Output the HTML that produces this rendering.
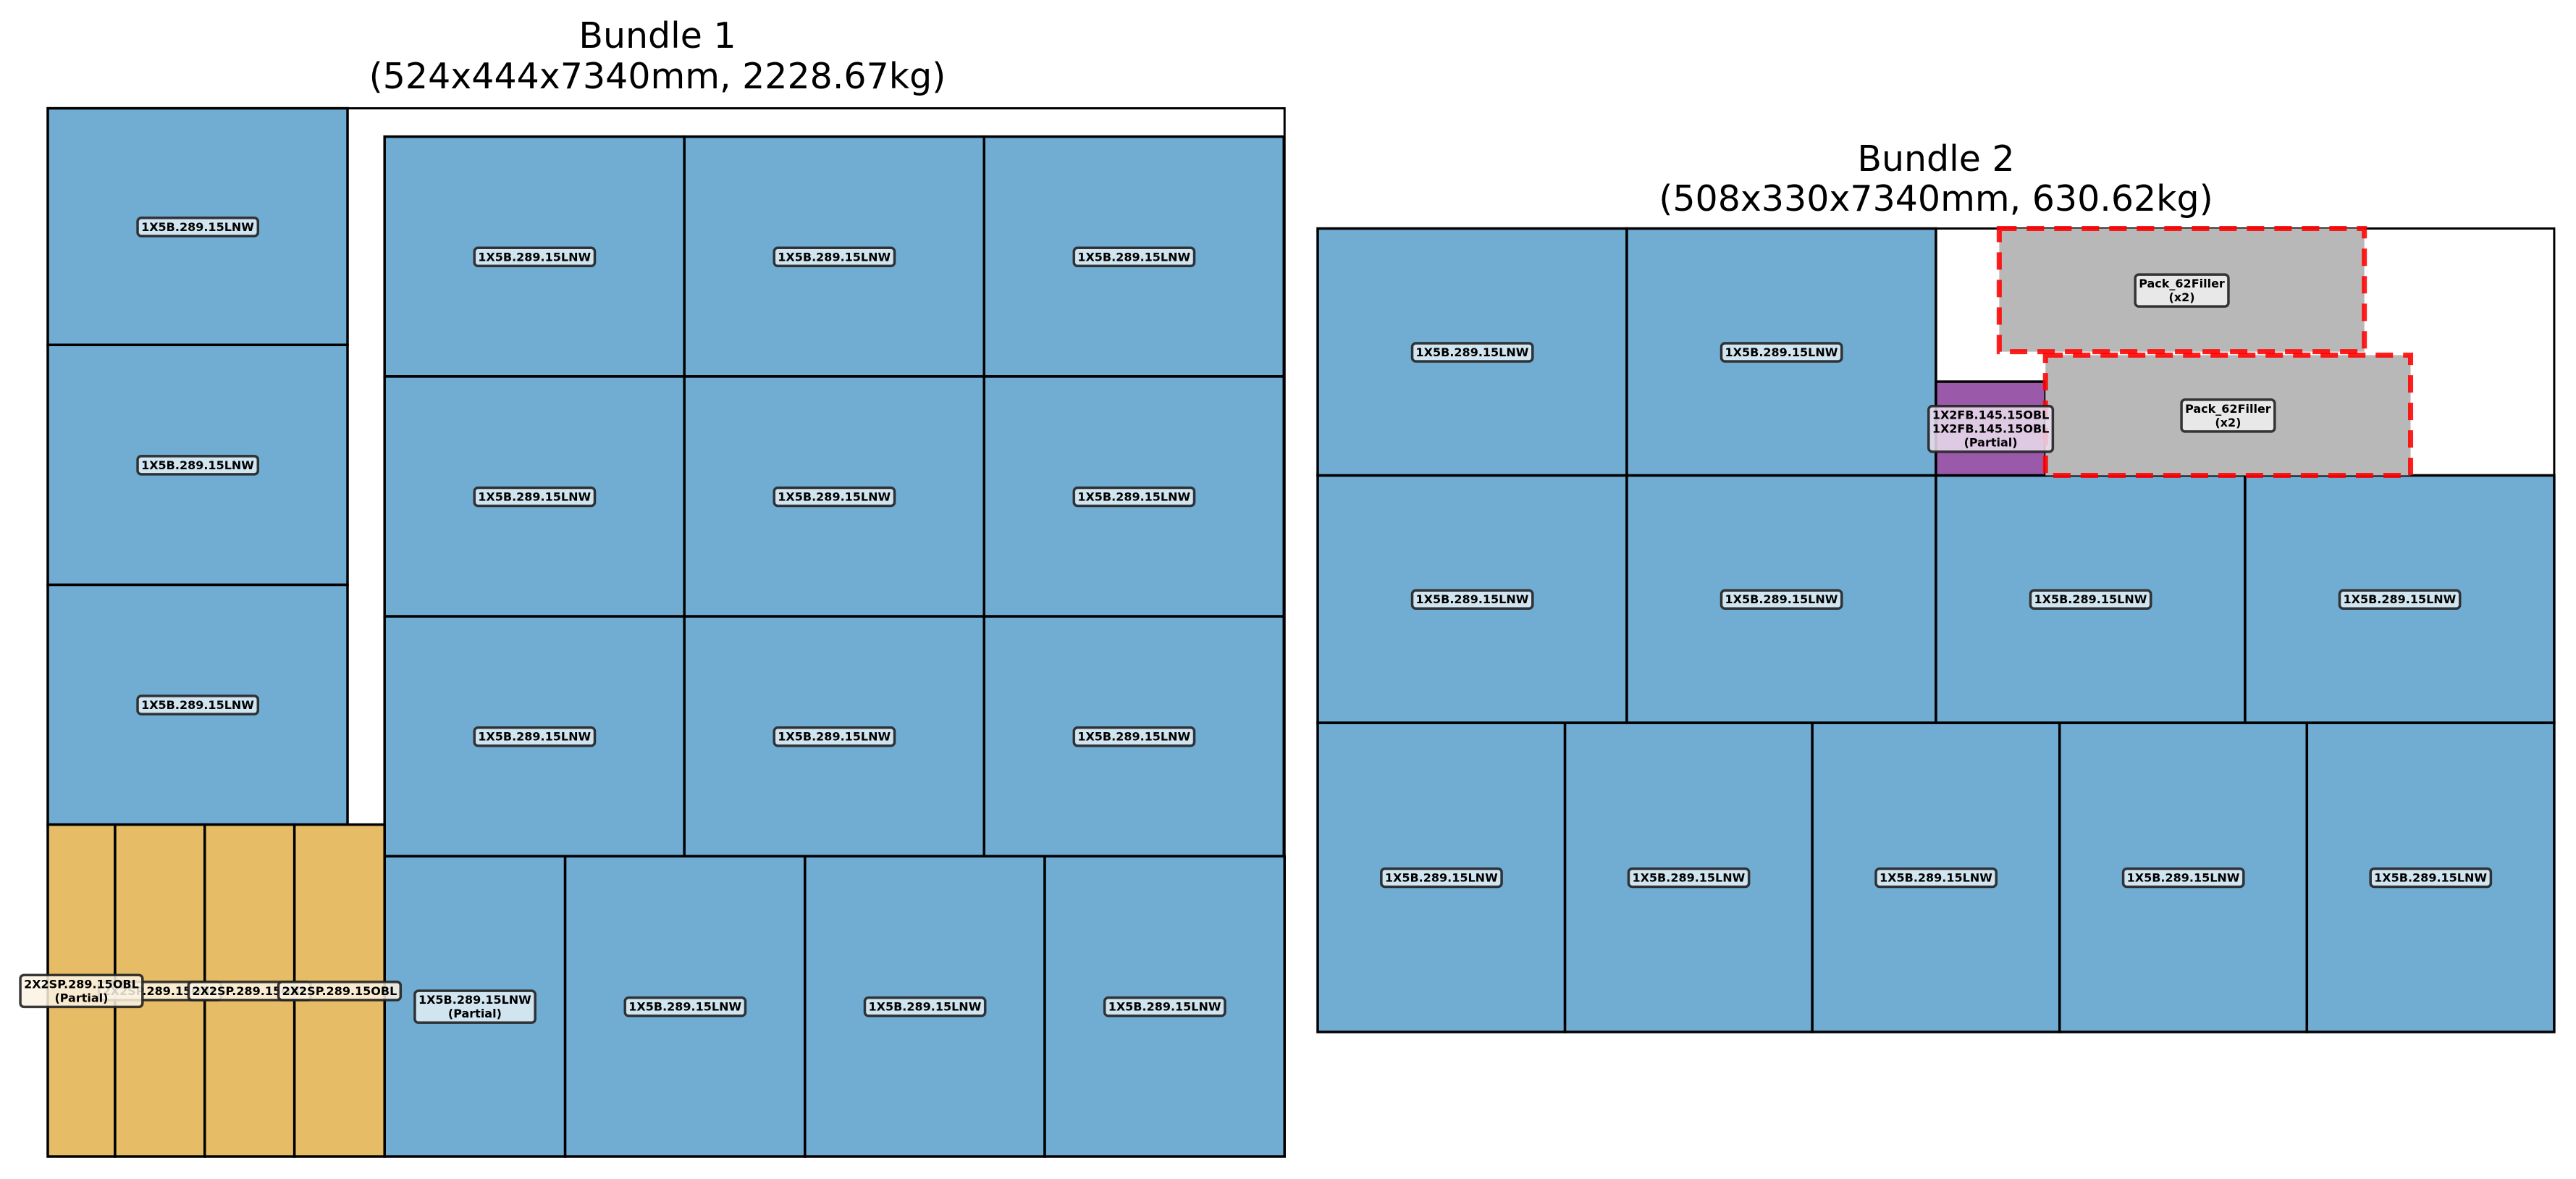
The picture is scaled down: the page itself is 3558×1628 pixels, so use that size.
<!DOCTYPE html>
<html><head><meta charset="utf-8"><style>
html,body{margin:0;padding:0;background:#fff;}
svg{display:block;}
text{font-family:"DejaVu Sans","Liberation Sans",sans-serif;}
</style></head><body>
<svg id="chart" width="3558" height="1628" viewBox="0 0 3558 1628" xmlns="http://www.w3.org/2000/svg">
<g id="b1"></g>
<g id="b2"></g>
</svg>
<script>
// Bundle 1 data (mm): x, y (from bottom-left), w, h, kind, label
const b1Kinds=['blue','blue','blue','blue','blue','blue','blue','blue','blue','blue','blue','blue','blue','blue','blue','blue','yellow','yellow','yellow','yellow'];
const b1X=[0,0,0,142.7,269.7,396.7,142.7,269.7,396.7,142.7,269.7,396.7,142.7,219.2,320.8,422.4,0,28.5,66.5,104.5];
const b1Y=[140.6,242.2,343.8,330.4,330.4,330.4,228.8,228.8,228.8,127.2,127.2,127.2,0,0,0,0,0,0,0,0];
const b1W=[127,127,127,127,127,127,127,127,127,127,127,127,76.5,101.6,101.6,101.6,28.5,38,38,38.2];
const b1H=[101.6,101.6,100.2,101.6,101.6,101.6,101.6,101.6,101.6,101.6,101.6,101.6,127.2,127.2,127.2,127.2,140.6,140.6,140.6,140.6];
const b1Labels=['1X5B.289.15LNW','1X5B.289.15LNW','1X5B.289.15LNW','1X5B.289.15LNW','1X5B.289.15LNW','1X5B.289.15LNW','1X5B.289.15LNW','1X5B.289.15LNW','1X5B.289.15LNW','1X5B.289.15LNW','1X5B.289.15LNW','1X5B.289.15LNW','1X5B.289.15LNW|(Partial)','1X5B.289.15LNW','1X5B.289.15LNW','1X5B.289.15LNW','2X2SP.289.15OBL|(Partial)','2X2SP.289.15OBL','2X2SP.289.15OBL','2X2SP.289.15OBL'];
// Bundle 2 data (mm)
const b2Kinds=['blue','blue','blue','blue','blue','blue','blue','blue','blue','blue','blue','purple','filler','filler'];
const b2X=[0,101.6,203.2,304.8,406.4,0,127,254,381,0,127,254,280,299];
const b2Y=[0,0,0,0,0,127,127,127,127,228.6,228.6,228.6,279.4,228.6];
const b2W=[101.6,101.6,101.6,101.6,101.6,127,127,127,127,127,127,45,150,150];
const b2H=[127,127,127,127,127,101.6,101.6,101.6,101.6,101.4,101.4,38.5,50.6,49.4];
const b2Labels=['1X5B.289.15LNW','1X5B.289.15LNW','1X5B.289.15LNW','1X5B.289.15LNW','1X5B.289.15LNW','1X5B.289.15LNW','1X5B.289.15LNW','1X5B.289.15LNW','1X5B.289.15LNW','1X5B.289.15LNW','1X5B.289.15LNW','1X2FB.145.15OBL|1X2FB.145.15OBL|(Partial)','Pack_62Filler|(x2)','Pack_62Filler|(x2)'];

const fills={blue:'#71acd2',yellow:'#e6bc66',purple:'#9b5aa9',filler:'#b8b8b8'};
const labelBg={blue:'#e2eef6',yellow:'#fbf3e3',purple:'#ebdeee',filler:'#f0f0f0'};
const NS='http://www.w3.org/2000/svg';
function mk(tag,attrs,parent){const e=document.createElementNS(NS,tag);for(const k in attrs)e.setAttribute(k,attrs[k]);parent.appendChild(e);return e;}

function drawBundle(g,cfg,kinds,X,Y,W,H,labels){
  const sx=v=>cfg.left+v*cfg.scale;
  const sy=v=>cfg.bottom-v*cfg.scale;
  const t1=mk('text',{x:cfg.cx,y:cfg.t1y,'font-size':49,'text-anchor':'middle'},g);
  t1.textContent=cfg.title1;
  
  
  const t2=mk('text',{x:cfg.cx,y:cfg.t2y,'font-size':49,'text-anchor':'middle'},g);
  t2.textContent=cfg.title2;
  
  
  const frame=mk('rect',{x:sx(0),y:sy(cfg.hmm),width:cfg.wmm*cfg.scale,height:cfg.hmm*cfg.scale,fill:'#fff',stroke:'#000','stroke-width':3},g);
  
  
  for(let i=0;i<kinds.length;i++){
    const k=kinds[i];
    const r=mk('rect',{x:sx(X[i]),y:sy(Y[i]+H[i]),width:W[i]*cfg.scale,height:H[i]*cfg.scale,fill:fills[k],stroke:k==='filler'?'#ff0000':'#000','stroke-width':k==='filler'?7:3.5},g);
    if(k==='filler'){r.setAttribute('stroke-dasharray','24 14');r.setAttribute('stroke-opacity','0.88');}
    
    
  }
  const order=[];
  for(let i=0;i<kinds.length;i++) if(labels[i].indexOf('(Partial)')<0) order.push(i);
  for(let i=0;i<kinds.length;i++) if(labels[i].indexOf('(Partial)')>=0) order.push(i);
  order.forEach(i=>{
    const k=kinds[i];
    const cx=sx(X[i]+W[i]/2), cy=sy(Y[i]+H[i]/2);
    const lines=labels[i].split('|');
    const lg=mk('g',{},g);
    
    
    const box=mk('rect',{rx:5,ry:5,fill:labelBg[k],'fill-opacity':0.85,stroke:'#222','stroke-width':3.5,'stroke-opacity':0.9},lg);
    const lh=19;
    const txt=mk('text',{x:cx,'font-size':16,'font-weight':'bold','text-anchor':'middle'},lg);
    lines.forEach((ln,j)=>{const ts=mk('tspan',{x:cx,y:cy+(j-(lines.length-1)/2)*lh+6},txt);ts.textContent=ln;});
    const bb=txt.getBBox();
    box.setAttribute('x',bb.x-5);box.setAttribute('y',bb.y-3);
    box.setAttribute('width',bb.width+10);box.setAttribute('height',bb.height+6);
  });
}
drawBundle(document.getElementById('b1'),{left:66,bottom:1597,scale:3.26,wmm:524,hmm:444,cx:908,t1y:66,t2y:122,title1:'Bundle 1',title2:'(524x444x7340mm, 2228.67kg)'},b1Kinds,b1X,b1Y,b1W,b1H,b1Labels);
drawBundle(document.getElementById('b2'),{left:1820,bottom:1425,scale:3.362,wmm:508,hmm:330,cx:2674,t1y:236,t2y:291,title1:'Bundle 2',title2:'(508x330x7340mm, 630.62kg)'},b2Kinds,b2X,b2Y,b2W,b2H,b2Labels);
</script>
</body></html>
